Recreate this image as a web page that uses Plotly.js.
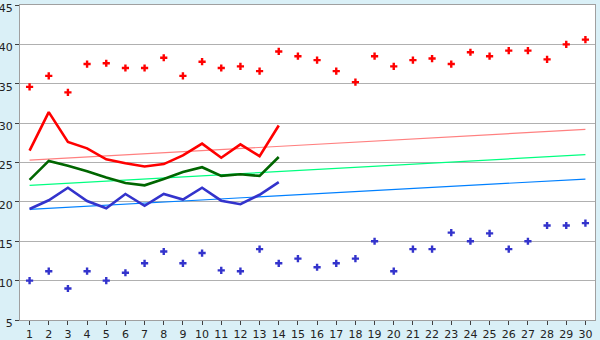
<!DOCTYPE html>
<html>
<head>
<meta charset="utf-8">
<script src="https://cdn.plot.ly/plotly-3.0.1.min.js"></script>
<style>html,body{margin:0;padding:0;background:#daf0f7;}#chart{width:600px;height:340px;}</style>
</head>
<body>
<div id="chart"></div>
<script>
const days = [1,2,3,4,5,6,7,8,9,10,11,12,13,14,15,16,17,18,19,20,21,22,23,24,25,26,27,28,29,30];
const maxPoints = [34.6,36,33.9,37.5,37.6,37,37,38.3,36,37.8,37,37.2,36.6,39.1,38.5,38,36.6,35.2,38.5,37.2,38,38.2,37.5,39,38.5,39.2,39.2,38.1,40,40.6];
const minPoints = [10,11.2,9,11.2,10,11,12.2,13.7,12.2,13.5,11.3,11.2,14,12.2,12.8,11.7,12.2,12.8,15,11.2,14,14,16.1,15,16,14,15,17,17,17.3];
const lineDays = [1,2,3,4,5,6,7,8,9,10,11,12,13,14];
const highLine = [26.5,31.4,27.6,26.8,25.4,24.9,24.5,24.8,25.9,27.4,25.6,27.3,25.8,29.7];
const midLine = [22.8,25.2,24.6,23.9,23.1,22.4,22.1,22.9,23.8,24.4,23.3,23.5,23.3,25.7];
const lowLine = [19.1,20.2,21.8,20.1,19.2,21.0,19.5,21.0,20.3,21.8,20.15,19.7,20.9,22.5];
const trendDays = [1,30];
const highTrend = [25.3,29.2];
const midTrend = [22.1,26.0];
const lowTrend = [19.05,22.9];

const traces = [
  {x: trendDays, y: highTrend, mode:'lines', line:{color:'#ff8080', width:1.2}},
  {x: trendDays, y: midTrend, mode:'lines', line:{color:'#00ff80', width:1.2}},
  {x: trendDays, y: lowTrend, mode:'lines', line:{color:'#0080ff', width:1.2}},
  {x: lineDays, y: highLine, mode:'lines', line:{color:'#ff0000', width:2.6}},
  {x: lineDays, y: midLine, mode:'lines', line:{color:'#006600', width:2.6}},
  {x: lineDays, y: lowLine, mode:'lines', line:{color:'#3333cc', width:2.6}},
  {x: days, y: maxPoints, mode:'markers', marker:{symbol:'cross', size:6, color:'#ff0000'}},
  {x: days, y: minPoints, mode:'markers', marker:{symbol:'cross', size:6, color:'#3333cc'}}
];

const layout = {
  width:600, height:340,
  margin:{l:20, r:5, t:5, b:20},
  paper_bgcolor:'#daf0f7',
  plot_bgcolor:'#ffffff',
  showlegend:false,
  font:{family:'DejaVu Sans, Verdana, sans-serif', size:11, color:'#222'},
  xaxis:{
    range:[0.5,30.5], tickvals:days, ticktext:days.map(String),
    showgrid:false, zeroline:false, showline:true, linecolor:'#a0a0a0', linewidth:1, mirror:true,
    ticks:'outside', ticklen:4, tickcolor:'#404040', tickfont:{size:11, color:'#222'},
    ticklabeloverflow:'allow'
  },
  yaxis:{
    range:[5,45], dtick:5, tick0:5,
    showgrid:true, gridcolor:'#b0b0b0', gridwidth:1, zeroline:false,
    showline:true, linecolor:'#a0a0a0', linewidth:1, mirror:true,
    ticks:'outside', ticklen:4, tickcolor:'#404040', tickfont:{size:11, color:'#222'},
    ticklabeloverflow:'allow', ticklabelshift:3
  }
};
Plotly.newPlot('chart', traces, layout, {staticPlot:true, displayModeBar:false});
</script>
</body>
</html>
